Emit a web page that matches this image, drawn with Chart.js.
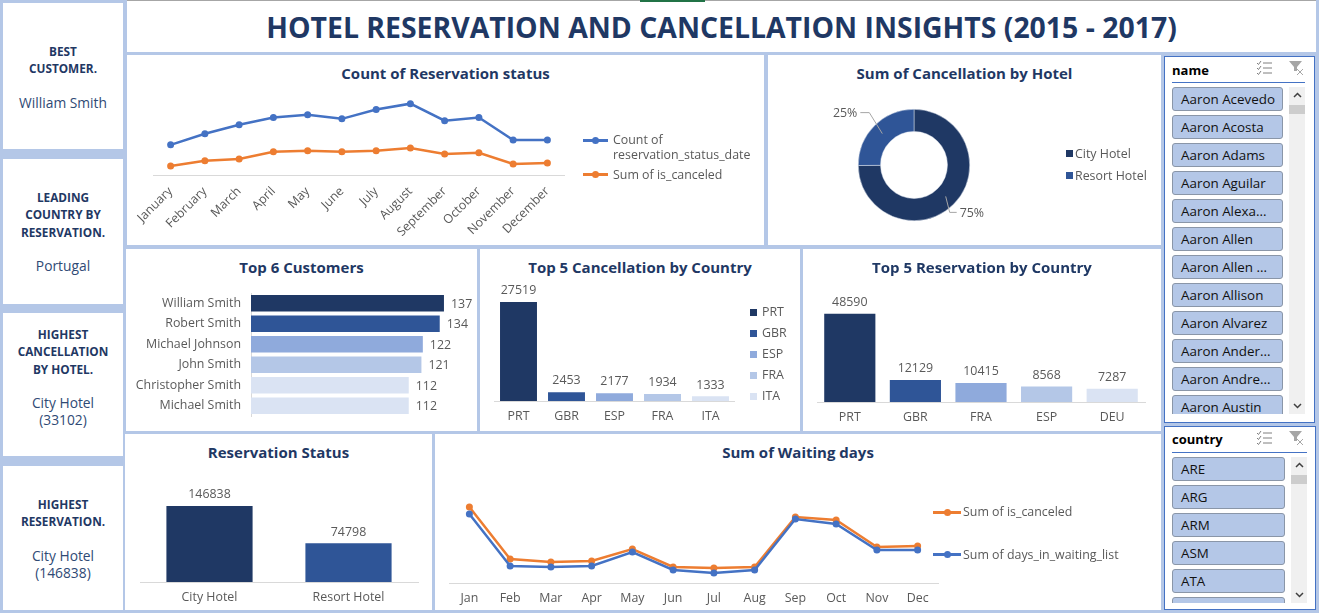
<!DOCTYPE html>
<html>
<head>
<meta charset="utf-8">
<title>Hotel Reservation and Cancellation Insights</title>
<script src="https://cdn.jsdelivr.net/npm/chart.js@4"></script>
<style>
html, body { margin: 0; height: 100%; overflow: hidden; background: #b4c7e7; font-family: "Open Sans", sans-serif; }
.box { position: absolute; background: #fff; }
.box canvas { position: absolute; left: 0; top: 0; }
#title { left: 127px; top: 0; width: 1189px; height: 52px; border-top: 1px solid #a6a6a6; box-sizing: border-box;
  color: #1f3864; font-weight: 700; font-size: 28.4px; line-height: 52px; text-align: center; }
#ribbon { position: absolute; left: 640px; top: 0; width: 65px; height: 2px; background: #217346; }
.kpi { left: 3px; width: 120px; color: #1f3864; font-size: 11.8px; line-height: 17.3px; text-align: center; box-sizing: border-box; }
.kpi b { display: block; }
.kpi span { display: block; margin-top: 16px; color: #2f4a75; font-size: 13.8px; line-height: 17px; }
.head { position: absolute; left: 0; right: 0; top: 7px; color: #1f3864; font-size: 15px; line-height: 22px; font-weight: 700; text-align: center; }
.legend { position: absolute; color: #595959; font-size: 12.4px; line-height: 15px; white-space: nowrap; }
.slicer { border: 1px solid #4472c4; box-sizing: border-box; }
.slicer h4 { position: absolute; left: 7px; top: 4px; margin: 0; color: #000; font-size: 13px; line-height: 18px; font-weight: 700; }
#countrySlicer h4 { top: 3px; }
.slicer hr { position: absolute; left: 7px; top: 25px; margin: 0; border: 0; height: 1px; background: #4472c4; }
.slicer .list { position: absolute; left: 7px; top: 30px; overflow: hidden; }
.slicer .item { height: 24px; margin-bottom: 4px; box-sizing: border-box; border: 1px solid #8a96a8; border-radius: 3px;
  background: #b4c7e7; color: #111; font-size: 13.4px; line-height: 22px; padding-left: 8px; white-space: nowrap; }
.slicer .bar { position: absolute; top: 30px; background: #f0f0f0; }
.slicer .bar u { position: absolute; left: 0; right: 0; top: 18px; height: 9px; background: #cdcdcd; }
.slicer svg { position: absolute; }
</style>
</head>
<body>
<div id="title" class="box">HOTEL RESERVATION AND CANCELLATION INSIGHTS (2015 - 2017)</div>
<div id="ribbon"></div>

<div class="box kpi" style="top:3px;height:146px;padding-top:40px"><b>BEST<br>CUSTOMER.</b><span>William Smith</span></div>
<div class="box kpi" style="top:159px;height:145px;padding-top:30px"><b>LEADING<br>COUNTRY BY<br>RESERVATION.</b><span>Portugal</span></div>
<div class="box kpi" style="top:313px;height:143px;padding-top:13px"><b>HIGHEST<br>CANCELLATION<br>BY HOTEL.</b><span>City Hotel<br>(33102)</span></div>
<div class="box kpi" style="top:466px;height:144px;padding-top:30px"><b>HIGHEST<br>RESERVATION.</b><span>City Hotel<br>(146838)</span></div>

<div class="box" style="left:127px;top:55px;width:637px;height:190px">
  <div class="head">Count of Reservation status</div>
  <canvas id="statusLine" width="637" height="190"></canvas>
  <div id="statusLegend"></div>
</div>
<div class="box" style="left:768px;top:55px;width:393px;height:190px">
  <div class="head">Sum of Cancellation by Hotel</div>
  <canvas id="hotelDonut" width="393" height="190"></canvas>
  <div id="hotelLegend"></div>
</div>
<div class="box" style="left:126px;top:249px;width:351px;height:182px">
  <div class="head">Top 6 Customers</div>
  <canvas id="topCustomers" width="351" height="182"></canvas>
</div>
<div class="box" style="left:480px;top:249px;width:320px;height:182px">
  <div class="head">Top 5 Cancellation by Country</div>
  <canvas id="cancelCountry" width="320" height="182"></canvas>
  <div id="cancelLegend"></div>
</div>
<div class="box" style="left:803px;top:249px;width:358px;height:182px">
  <div class="head">Top 5 Reservation by Country</div>
  <canvas id="reserveCountry" width="358" height="182"></canvas>
</div>
<div class="box" style="left:125px;top:434px;width:307px;height:176px">
  <div class="head">Reservation Status</div>
  <canvas id="statusBars" width="307" height="176"></canvas>
</div>
<div class="box" style="left:435px;top:434px;width:726px;height:176px">
  <div class="head">Sum of Waiting days</div>
  <canvas id="waitingLine" width="726" height="176"></canvas>
  <div id="waitingLegend"></div>
</div>

<div class="box slicer" style="left:1164px;top:56px;width:151px;height:367px" id="nameSlicer"></div>
<div class="box slicer" style="left:1164px;top:426px;width:152px;height:184px" id="countrySlicer"></div>

<script>
var MONTHS_LONG = ['January', 'February', 'March', 'April', 'May', 'June', 'July', 'August', 'September', 'October', 'November', 'December'];
var MONTHS_SHORT = ['Jan', 'Feb', 'Mar', 'Apr', 'May', 'Jun', 'Jul', 'Aug', 'Sep', 'Oct', 'Nov', 'Dec'];
var STATUS_COUNT = [11700, 16000, 19500, 22300, 23400, 21800, 25400, 27700, 21100, 22300, 13600, 13600];
var STATUS_CANCELED = [3500, 5500, 6200, 9000, 9400, 9000, 9400, 10500, 8200, 8600, 4300, 4700];
var WAITING_DAYS = [69000, 17000, 16000, 17000, 31000, 13000, 10000, 13000, 64000, 59000, 33000, 33000];
var WAITING_CANCELED = [76000, 24000, 21000, 22000, 34000, 16000, 15000, 16000, 66000, 63000, 36000, 37000];
var HOTELS = ['City Hotel', 'Resort Hotel'];
var HOTEL_CANCELLATIONS = [33102, 11122];
var HOTEL_RESERVATIONS = [146838, 74798];
var CUSTOMERS = ['William Smith', 'Robert Smith', 'Michael Johnson', 'John Smith', 'Christopher Smith', 'Michael Smith'];
var CUSTOMER_COUNTS = [137, 134, 122, 121, 112, 112];
var CANCEL_COUNTRIES = ['PRT', 'GBR', 'ESP', 'FRA', 'ITA'];
var CANCEL_COUNTS = [27519, 2453, 2177, 1934, 1333];
var RESERVE_COUNTRIES = ['PRT', 'GBR', 'FRA', 'ESP', 'DEU'];
var RESERVE_COUNTS = [48590, 12129, 10415, 8568, 7287];
var SLICER_NAMES = ['Aaron Acevedo', 'Aaron Acosta', 'Aaron Adams', 'Aaron Aguilar', 'Aaron Alexa...', 'Aaron Allen', 'Aaron Allen ...', 'Aaron Allison', 'Aaron Alvarez', 'Aaron Ander...', 'Aaron Andre...', 'Aaron Austin'];
var SLICER_COUNTRIES = ['ARE', 'ARG', 'ARM', 'ASM', 'ATA', 'AUS'];

var NAVY = '#1f3864', MID = '#2f5597', SOFT = '#8faadc', PALE = '#b4c7e7', FAINT = '#dae3f3';
var BLUE = '#4472c4', ORANGE = '#ed7d31', TEXT = '#595959', RULE = '#d9d9d9';
var FONT = '"Open Sans", sans-serif';

Chart.defaults.font.family = FONT;
Chart.defaults.font.size = 12.4;
Chart.defaults.color = TEXT;
Chart.defaults.animation = false;

// value labels beside the bars, there is no datalabels plugin offline
var barValues = {
    id: 'barValues',
    afterDatasetsDraw: function(chart) {
        var horizontal = chart.options.indexAxis === 'y';
        var ctx = chart.ctx;
        var data = chart.data.datasets[0].data;
        ctx.save();
        ctx.font = '12.4px ' + FONT;
        ctx.fillStyle = TEXT;
        chart.getDatasetMeta(0).data.forEach(function(bar, i) {
            if (horizontal) {
                ctx.textAlign = 'left';
                ctx.textBaseline = 'middle';
                ctx.fillText(data[i], bar.x + 7, bar.y + 1);
            } else {
                ctx.textAlign = 'center';
                ctx.textBaseline = 'bottom';
                ctx.fillText(data[i], bar.x, bar.y - 5);
            }
        });
        ctx.restore();
    }
};

// percent labels with the little leader lines on the doughnut
var donutLabels = {
    id: 'donutLabels',
    afterDatasetsDraw: function(chart) {
        var ctx = chart.ctx;
        var data = chart.data.datasets[0].data;
        var total = data[0] + data[1];
        var elbows = [[4, 16, 7], [-13, -21, -9]];
        ctx.save();
        ctx.font = '12.4px ' + FONT;
        ctx.fillStyle = TEXT;
        ctx.strokeStyle = '#a6a6a6';
        ctx.textBaseline = 'middle';
        chart.getDatasetMeta(0).data.forEach(function(arc, i) {
            var mid = arc.getCenterPoint();
            var e = elbows[i];
            var text = Math.round(data[i] / total * 100) + '%';
            ctx.beginPath();
            ctx.moveTo(mid.x, mid.y);
            ctx.lineTo(mid.x + e[0], mid.y + e[1]);
            ctx.lineTo(mid.x + e[0] + e[2], mid.y + e[1]);
            ctx.stroke();
            ctx.textAlign = i === 0 ? 'left' : 'right';
            ctx.fillText(text, mid.x + e[0] + e[2] + (i === 0 ? 3 : -3), mid.y + e[1] + 1);
        });
        ctx.restore();
    }
};

function chartOptions(pad, axisHeight, yMax) {
    return {
        responsive: false,
        events: [],
        layout: { padding: pad },
        plugins: { legend: { display: false }, tooltip: { enabled: false } },
        scales: {
            x: {
                grid: { display: false },
                border: { color: RULE },
                ticks: { color: TEXT, autoSkip: false, padding: 0 },
                afterFit: function(scale) { scale.height = axisHeight; }
            },
            y: { display: false, min: 0, max: yMax }
        }
    };
}

function lineSet(label, data, color) {
    return {
        label: label, data: data, borderColor: color, backgroundColor: color,
        borderWidth: 2.5, pointRadius: 3.5, pointBorderWidth: 0, tension: 0
    };
}

function barChart(id, labels, values, colors, pad, axisHeight, yMax, thickness) {
    return new Chart(document.getElementById(id), {
        type: 'bar',
        data: { labels: labels, datasets: [{ data: values, backgroundColor: colors, barPercentage: thickness, categoryPercentage: 1 }] },
        options: chartOptions(pad, axisHeight, yMax),
        plugins: [barValues]
    });
}

function addLegend(id, rows) {
    var box = document.getElementById(id);
    rows.forEach(function(row) {
        var el = document.createElement('div');
        el.className = 'legend';
        el.style.left = row.x + 'px';
        el.style.top = row.y + 'px';
        el.innerHTML = row.text;
        box.appendChild(el);
    });
}

function lineKey(id, x, y, w, color) {
    document.getElementById(id).insertAdjacentHTML('beforeend',
        '<i class="legend" style="left:' + x + 'px;top:' + (y - 1) + 'px;width:' + w + 'px;height:2.5px;background:' + color + '"></i>' +
        '<i class="legend" style="left:' + (x + w / 2 - 3.5) + 'px;top:' + (y - 3) + 'px;width:7px;height:7px;border-radius:50%;background:' + color + '"></i>');
}

function squareKey(id, x, y, color) {
    document.getElementById(id).insertAdjacentHTML('beforeend',
        '<i class="legend" style="left:' + x + 'px;top:' + (y - 3) + 'px;width:7px;height:7px;background:' + color + '"></i>');
}

var statusOptions = chartOptions({ left: 26.5, right: 199.5, top: 35 }, 70, 33000);
statusOptions.scales.x.offset = true;
statusOptions.scales.x.ticks.minRotation = 45;
statusOptions.scales.x.ticks.maxRotation = 45;
statusOptions.scales.x.ticks.padding = 1;
new Chart(document.getElementById('statusLine'), {
    type: 'line',
    data: {
        labels: MONTHS_LONG,
        datasets: [
            lineSet('Count of reservation_status_date', STATUS_COUNT, BLUE),
            lineSet('Sum of is_canceled', STATUS_CANCELED, ORANGE)
        ]
    },
    options: statusOptions
});
lineKey('statusLegend', 456, 85, 25, BLUE);
lineKey('statusLegend', 456, 119, 25, ORANGE);
addLegend('statusLegend', [
    { x: 486, y: 77, text: 'Count of<br>reservation_status_date' },
    { x: 486, y: 112, text: 'Sum of is_canceled' }
]);

new Chart(document.getElementById('hotelDonut'), {
    type: 'doughnut',
    data: { labels: HOTELS, datasets: [{ data: HOTEL_CANCELLATIONS, backgroundColor: [NAVY, MID], borderColor: '#dfe5ef', borderWidth: 0.5 }] },
    options: {
        responsive: false,
        events: [],
        cutout: '60%',
        layout: { padding: { left: 90, right: 191, top: 54, bottom: 24 } },
        plugins: { legend: { display: false }, tooltip: { enabled: false } }
    },
    plugins: [donutLabels]
});
squareKey('hotelLegend', 298, 98, NAVY);
squareKey('hotelLegend', 298, 120, MID);
addLegend('hotelLegend', [
    { x: 307, y: 91, text: HOTELS[0] },
    { x: 307, y: 113, text: HOTELS[1] }
]);

var customerOptions = chartOptions({ left: 0, right: 26, top: 44, bottom: 15 }, 0, 142);
customerOptions.indexAxis = 'y';
customerOptions.scales = {
    x: { display: false, min: 0, max: 142 },
    y: {
        grid: { display: false },
        border: { color: RULE },
        ticks: { color: TEXT, autoSkip: false, padding: 2 },
        afterFit: function(scale) { scale.width = 125; }
    }
};
new Chart(document.getElementById('topCustomers'), {
    type: 'bar',
    data: { labels: CUSTOMERS, datasets: [{ data: CUSTOMER_COUNTS, backgroundColor: [NAVY, MID, SOFT, PALE, FAINT, FAINT], barPercentage: 0.8, categoryPercentage: 1 }] },
    options: customerOptions,
    plugins: [barValues]
});

barChart('cancelCountry', CANCEL_COUNTRIES, CANCEL_COUNTS, [NAVY, MID, SOFT, PALE, FAINT], { left: 14.5, right: 65.5, top: 35 }, 30, 32500, 0.77);
CANCEL_COUNTRIES.forEach(function(code, i) {
    var y = 62 + i * 21;
    squareKey('cancelLegend', 270, y + 1, [NAVY, MID, SOFT, PALE, FAINT][i]);
    addLegend('cancelLegend', [{ x: 282, y: y - 7, text: code }]);
});

barChart('reserveCountry', RESERVE_COUNTRIES, RESERVE_COUNTS, [NAVY, MID, SOFT, PALE, FAINT], { left: 14, right: 16, top: 35 }, 29, 65000, 0.78);

barChart('statusBars', HOTELS, HOTEL_RESERVATIONS, [NAVY, MID], { left: 15, right: 14, top: 35 }, 28, 218000, 0.62);

var waitingOptions = chartOptions({ left: 14, right: 223, top: 35 }, 27, 114000);
waitingOptions.scales.x.offset = true;
new Chart(document.getElementById('waitingLine'), {
    type: 'line',
    data: {
        labels: MONTHS_SHORT,
        datasets: [
            lineSet('Sum of days_in_waiting_list', WAITING_DAYS, BLUE),
            lineSet('Sum of is_canceled', WAITING_CANCELED, ORANGE)
        ]
    },
    options: waitingOptions
});
lineKey('waitingLegend', 498, 78, 28, ORANGE);
lineKey('waitingLegend', 498, 120, 28, BLUE);
addLegend('waitingLegend', [
    { x: 528, y: 70, text: 'Sum of is_canceled' },
    { x: 528, y: 113, text: 'Sum of days_in_waiting_list' }
]);

var FILTER_ICONS =
    '<svg style="left:91px;top:3px" width="17" height="16" fill="none" stroke="#7f7f7f"><path d="M1 3l1.5 1.5L5 1M1 8l1.5 1.5L5 6M1 13l1.5 1.5L5 11"/><path d="M7 3h9M7 8h9M7 13h9"/></svg>' +
    '<svg style="left:123px;top:3px" width="17" height="16"><path d="M1 1h13L9 7v4H6V7z" fill="#a6a6a6"/><path d="M9 9l6 6M15 9l-6 6" stroke="#a6a6a6" fill="none"/></svg>';
var CHEVRON_UP =
    '<svg style="left:4px;top:5px" width="9" height="6" fill="none" stroke="#404040" stroke-width="1.5"><path d="M1 5l3.5-3.5L8 5"/></svg>';
var CHEVRON_DOWN =
    '<svg style="left:4px;bottom:5px" width="9" height="6" fill="none" stroke="#404040" stroke-width="1.5"><path d="M1 1l3.5 3.5L8 1"/></svg>';

function buildSlicer(id, heading, items, listW, listH) {
    var el = document.getElementById(id);
    var rows = items.map(function(t) { return '<div class="item">' + t + '</div>'; }).join('');
    el.innerHTML = '<h4>' + heading + '</h4>' + FILTER_ICONS +
        '<hr style="width:' + (listW + 22) + 'px">' +
        '<div class="list" style="width:' + listW + 'px;height:' + listH + 'px">' + rows + '</div>' +
        '<div class="bar" style="left:' + (listW + 13) + 'px;width:16px;height:' + listH + 'px"><u></u>' + CHEVRON_UP + CHEVRON_DOWN + '</div>';
}
buildSlicer('nameSlicer', 'name', SLICER_NAMES, 111, 327);
buildSlicer('countrySlicer', 'country', SLICER_COUNTRIES, 113, 146);
</script>
</body>
</html>
